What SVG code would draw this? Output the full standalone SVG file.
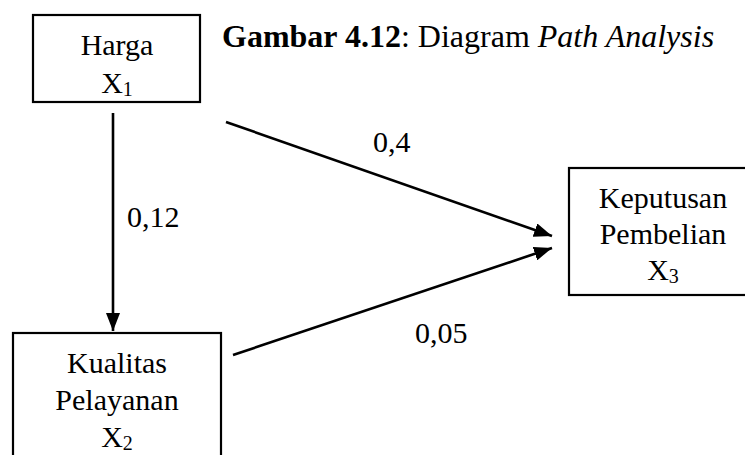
<svg xmlns="http://www.w3.org/2000/svg" width="745" height="455" viewBox="0 0 745 455">
  <style>
    .box { fill: #ffffff; stroke: #000000; stroke-width: 2.2; }
    .t { font-family: "Liberation Serif", "Times New Roman", serif; font-size: 30px; fill: #000000; text-anchor: middle; }
    .lbl { font-family: "Liberation Serif", "Times New Roman", serif; font-size: 30px; fill: #000000; }
    .title { font-family: "Liberation Serif", "Times New Roman", serif; font-size: 32px; fill: #000000; }
    .edge { stroke: #000000; stroke-width: 2.6; fill: none; marker-end: url(#arrow); }
    .sub { font-size: 20px; }
  </style>
  <defs>
    <marker id="arrow" markerUnits="userSpaceOnUse" markerWidth="20" markerHeight="14" refX="18" refY="7" orient="auto">
      <path d="M0,0 L18,7 L0,14 z" fill="#000000"/>
    </marker>
  </defs>
  <rect width="745" height="455" fill="#ffffff"/>

  <g id="title">
    <text class="title" x="222" y="47"><tspan font-weight="bold">Gambar 4.12</tspan>: Diagram <tspan font-style="italic">Path Analysis</tspan></text>
  </g>

  <g id="connectors">
    <line class="edge" x1="113" y1="113" x2="113" y2="331"/>
    <line class="edge" x1="226" y1="122" x2="552" y2="236"/>
    <line class="edge" x1="233" y1="355" x2="552" y2="248"/>
    <text class="lbl" x="127" y="227">0,12</text>
    <text class="lbl" x="373" y="152">0,4</text>
    <text class="lbl" x="415" y="343">0,05</text>
  </g>

  <g id="node-harga">
    <rect class="box" x="33" y="15" width="167" height="87"/>
    <text class="t" x="117" y="55">Harga</text>
    <text class="t" x="117" y="93">X<tspan class="sub" dy="3">1</tspan></text>
  </g>

  <g id="node-kualitas">
    <rect class="box" x="13" y="333" width="208" height="140"/>
    <text class="t" x="117" y="373">Kualitas</text>
    <text class="t" x="117" y="410">Pelayanan</text>
    <text class="t" x="117" y="447">X<tspan class="sub" dy="3">2</tspan></text>
  </g>

  <g id="node-keputusan">
    <rect class="box" x="569" y="168" width="190" height="127"/>
    <text class="t" x="663" y="208">Keputusan</text>
    <text class="t" x="663" y="244">Pembelian</text>
    <text class="t" x="663" y="280">X<tspan class="sub" dy="3">3</tspan></text>
  </g>
</svg>
